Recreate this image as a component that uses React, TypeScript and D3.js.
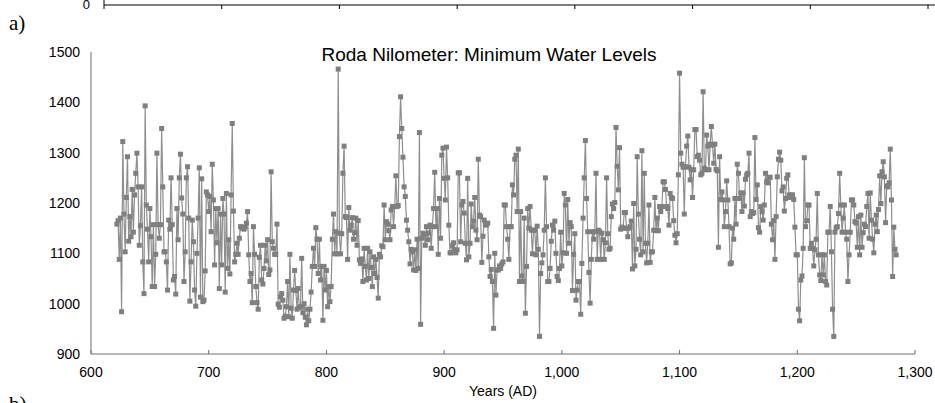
import React from "react";
import * as d3 from "d3";

// Roda Nilometer annual minimum water levels, 622–1284 AD
const startYear = 622;
const levels622to697 = [
  1158,1165,1088,1170,984,1322,1178,1103,1211,1292,
  1124,1173,1133,1227,1142,1216,1259,1299,1232,1116,
  1155,1232,1083,1020,1393,1196,1148,1083,1189,1133,
  1034,1157,1034,1098,1299,1157,1130,1157,1348,1232,
  1103,1103,1083,1027,1166,1148,1250,1157,1047,1054,
  1019,1189,1127,1250,1297,1210,1178,1044,1103,1250,
  1272,1170,1005,1083,1166,1123,1027,995,1100,1170,
  1270,1013,1248,1004,1007,1065,
];
const levels698to793 = [
  1222,1216,1183,1213,1143,1277,1206,1077,1189,1121,
  1189,1030,1178,1077,1209,1178,1023,1219,1070,1127,
  1059,1216,1358,1184,1083,1098,1120,1098,1130,1153,
  1150,1152,1148,1152,1160,1183,1097,1044,1060,1002,
  1153,1098,1034,1002,989,1092,1116,1047,1039,1070,
  1116,1085,1127,1058,1067,1262,1123,1110,1098,1098,
  1158,999,993,1014,1020,1007,971,975,994,1044,
  974,1098,991,971,1027,1066,1026,989,1030,992,
  994,1090,982,1000,973,958,989,966,989,1023,
  1074,1110,1074,1151,1128,1060,
];
const levels794to886 = [
  1128,1047,1074,967,1074,1027,1066,994,1034,1004,
  1034,1128,1178,1099,1143,1099,1466,1140,1099,1139,
  1259,1313,1173,1171,1088,1191,1146,1156,1171,1128,
  1141,1170,1116,1165,1087,1080,1089,1044,1110,1074,
  1047,1110,1050,1103,1072,1034,1093,1060,1088,1052,
  1011,1098,1093,1115,1113,1196,1127,1163,1158,1145,
  1127,1186,1193,1153,1193,1254,1193,1195,1332,1411,
  1348,1291,1232,1213,1166,1146,1123,1079,1108,1103,
  1067,1107,1066,1128,1070,1340,959,1130,1140,1138,
  1116,1153,1127,
];
const levels887to980 = [
  1140,1156,1110,1153,1189,1261,1153,1189,1098,1209,
  1130,1295,1309,1249,1206,1311,1250,1156,1101,1101,
  1115,1121,1107,1101,1107,1260,1260,1123,1196,1203,
  1180,1120,1087,1249,1093,1120,1198,1153,1164,1211,
  1146,1127,1287,1176,1173,1082,1134,1166,1158,1156,
  1160,1093,1054,1068,1044,951,1100,1017,1067,1067,
  1075,1070,1079,1083,1196,1196,1153,1128,1088,1153,
  1153,1236,1216,1287,1295,1183,1307,1044,1183,1055,
  1044,1170,981,1074,1189,1150,1193,1146,1099,1146,
  1146,1097,1154,1108,
];
const levels981to1074 = [
  935,1060,1081,1097,1146,1250,1153,1044,1044,1070,
  1124,1156,1146,1164,1100,1054,1046,1070,1142,1075,
  1101,1219,1196,1100,1207,1120,1161,1153,1026,1098,
  1139,1007,1027,1044,1044,979,1080,1170,1250,1324,
  1209,1143,1062,1001,1088,1143,1128,1143,1259,1088,
  1146,1143,1088,1140,1127,1088,1121,1250,1139,1108,
  1110,1173,1198,1189,1201,1350,1273,1226,1310,1148,
  1152,1150,1181,1181,1150,1133,1150,1153,1164,1069,
  1199,1075,1108,1292,1178,1128,1097,1304,1103,1259,
  1120,1081,1120,1196,
];
const levels1075to1167 = [
  1082,1103,1103,1146,1211,1145,1170,1145,1193,1183,
  1193,1242,1242,1227,1193,1189,1156,1219,1211,1209,
  1165,1136,1121,1139,1256,1458,1299,1277,1271,1178,
  1272,1313,1333,1271,1246,1266,1211,1266,1346,1346,
  1292,1295,1285,1256,1259,1421,1269,1266,1335,1313,
  1266,1317,1352,1315,1279,1317,1267,1264,1112,1292,
  1207,1222,1206,1153,1183,1244,1206,1153,1079,1081,
  1150,1128,1209,1158,1277,1259,1209,1220,1183,1220,
  1194,1247,1256,1259,1299,1173,1183,1179,1181,1330,
  1207,1236,1151,
];
const levels1168to1261 = [
  1142,1193,1183,1166,1196,1259,1242,1240,1251,1251,
  1158,1127,1165,1088,1173,1252,1287,1301,1285,1224,
  1232,1184,1209,1249,1256,1216,1211,1216,1216,1207,
  1152,1097,1097,989,966,1047,1055,1110,1290,1153,
  1165,1196,1196,1110,1120,1110,1075,1107,1128,1219,
  1097,1057,1046,1097,1057,1097,1044,1037,1142,1142,
  1193,1103,989,935,1142,1151,1153,1179,1259,1196,
  1142,1170,1196,1142,1128,1044,1097,1142,1206,1206,
  1196,1163,1160,1112,1173,1097,1176,1112,1141,1158,
  1153,1193,1219,1130,
];
const levels1262to1284 = [
  1220,1166,1128,1101,1158,1176,1143,1187,1254,1199,
  1262,1282,1252,1161,1234,1232,1240,1307,1206,1054,
  1152,1108,1097,
];

const xTicks = [600, 700, 800, 900, 1000, 1100, 1200, 1300];
const yTicks = [900, 1000, 1100, 1200, 1300, 1400, 1500];
const title = "Roda Nilometer: Minimum Water Levels";
const xLabel = "Years (AD)";

const levels = [
  ...levels622to697,
  ...levels698to793,
  ...levels794to886,
  ...levels887to980,
  ...levels981to1074,
  ...levels1075to1167,
  ...levels1168to1261,
  ...levels1262to1284,
];
const data = levels.map((v, i) => ({ year: startYear + i, value: v }));

export default function App() {
  const W = 935;
  const H = 403;
  const x = d3.scaleLinear().domain([600, 1300]).range([91, 915]);
  const y = d3.scaleLinear().domain([900, 1500]).range([354, 52]);
  const line = d3
    .line<{ year: number; value: number }>()
    .x((d) => x(d.year))
    .y((d) => y(d.value));
  const fmt = d3.format(",");
  const font = "'Liberation Sans', Arial, sans-serif";
  const topStep = x(700) - x(600);
  const topTicks = d3.range(104, W, topStep);

  return (
    <svg
      width={W}
      height={H}
      style={{ position: "absolute", left: 0, top: 0, background: "#fff" }}
    >
      {/* remnant of the chart above */}
      <text x={90} y={9} textAnchor="end" fontFamily={font} fontSize={13} fill="#000">
        0
      </text>
      <line x1={104} x2={W} y1={5} y2={5} stroke="#000" strokeWidth={1} />
      <line x1={104} x2={104} y1={0} y2={9} stroke="#000" strokeWidth={1} />
      {topTicks.slice(1).map((t) => (
        <line key={t} x1={t} x2={t} y1={5} y2={9} stroke="#000" strokeWidth={1} />
      ))}
      <text x={9} y={30} fontFamily="'Liberation Serif', 'Times New Roman', serif" fontSize={21} fill="#000">
        a)
      </text>
      <text x={9} y={411} fontFamily="'Liberation Serif', 'Times New Roman', serif" fontSize={21} fill="#000">
        b)
      </text>

      {/* axes */}
      <line x1={x(600)} x2={x(600)} y1={y(1500)} y2={y(900)} stroke="#6e6e6e" strokeWidth={1} />
      <line x1={x(600)} x2={x(1300)} y1={y(900)} y2={y(900)} stroke="#6e6e6e" strokeWidth={1} />
      {xTicks.map((t) => (
        <g key={t}>
          <line x1={x(t)} x2={x(t)} y1={y(900)} y2={y(900) - 4} stroke="#6e6e6e" strokeWidth={1} />
          <text x={x(t)} y={377} textAnchor="middle" fontFamily={font} fontSize={14} fill="#000">
            {fmt(t)}
          </text>
        </g>
      ))}
      {yTicks.map((t) => (
        <text key={t} x={80} y={y(t)} dy="0.35em" textAnchor="end" fontFamily={font} fontSize={14} fill="#000">
          {t}
        </text>
      ))}
      <text x={x(950)} y={396} textAnchor="middle" fontFamily={font} fontSize={14} fill="#000">
        {xLabel}
      </text>
      <text x={489} y={61} textAnchor="middle" fontFamily={font} fontSize={19} fill="#000">
        {title}
      </text>

      {/* series */}
      <path d={line(data) ?? ""} fill="none" stroke="#8e8e8e" strokeWidth={1.2} />
      {data.map((d) => (
        <rect
          key={d.year}
          x={x(d.year) - 2.5}
          y={y(d.value) - 2.5}
          width={5}
          height={5}
          fill="#7f7f7f"
        />
      ))}
    </svg>
  );
}
